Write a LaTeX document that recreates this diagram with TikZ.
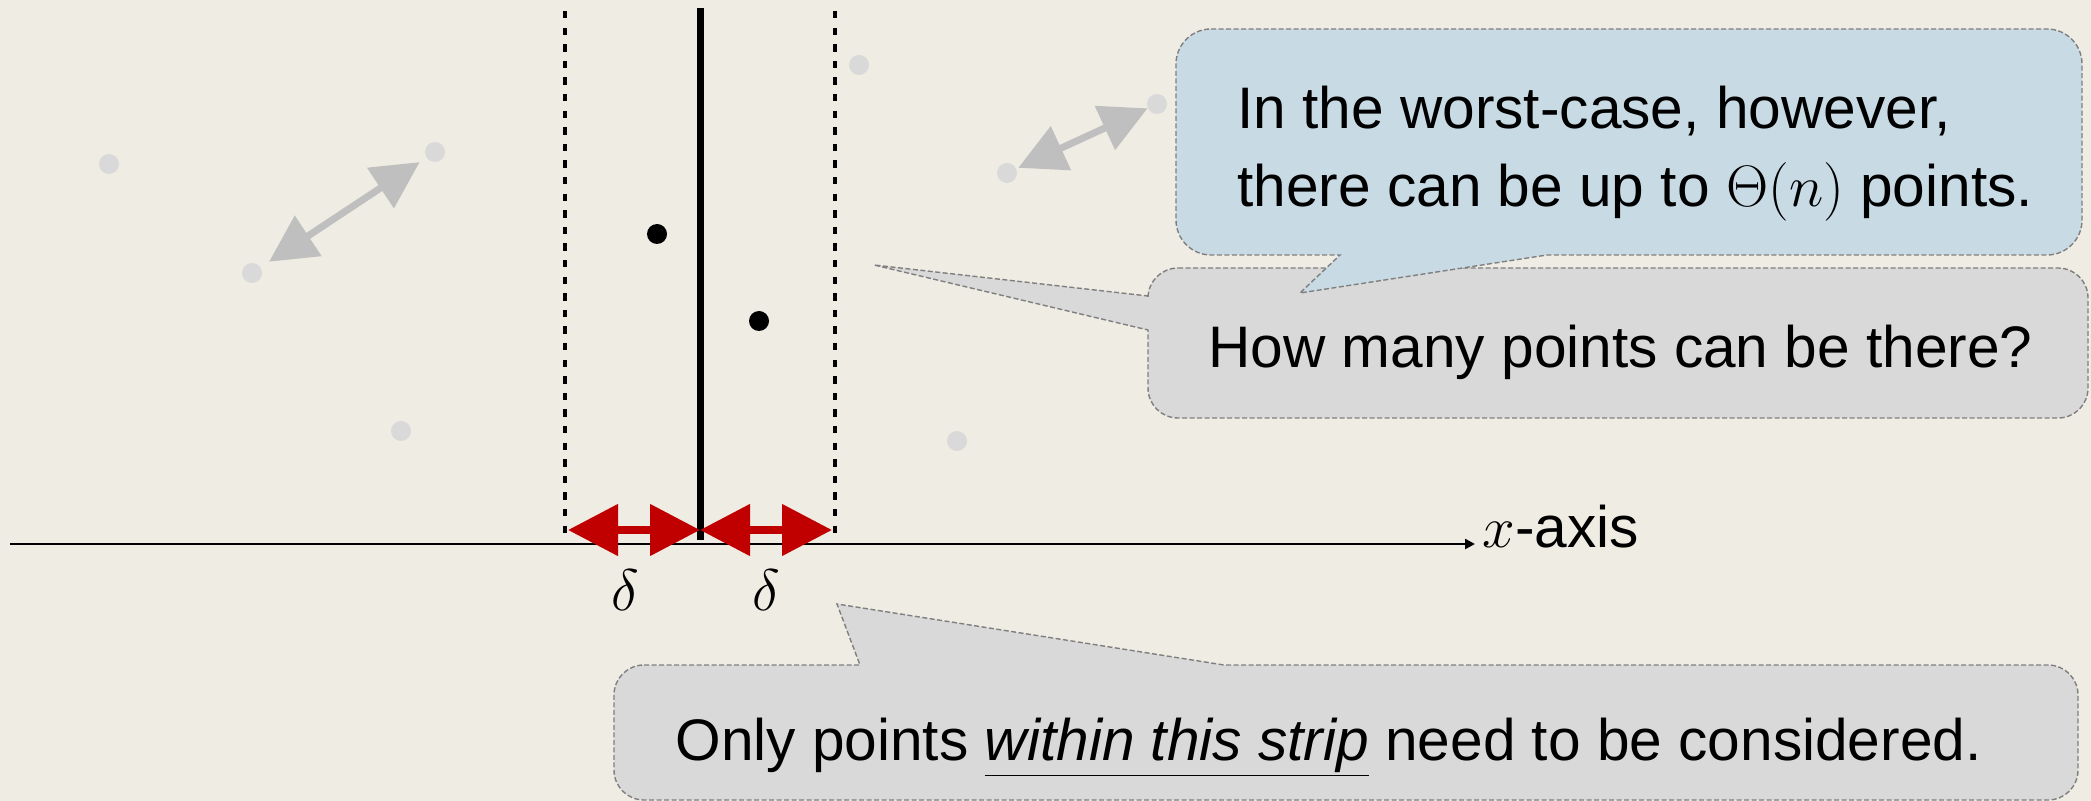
\RequirePackage{fix-cm}
\documentclass[tikz,border=0pt]{standalone}
\usepackage{fontspec}
\setmainfont{Liberation Sans}
\usetikzlibrary{arrows.meta}
\definecolor{paper}{RGB}{239,236,228}
\definecolor{ptgray}{RGB}{217,217,217}
\definecolor{pairgray}{RGB}{191,191,191}
\definecolor{stripred}{RGB}{192,0,0}
\definecolor{skyfill}{RGB}{200,218,228}
\definecolor{boxgray}{RGB}{217,217,217}
\definecolor{bubbleedge}{RGB}{127,127,127}
\tikzset{
  gpoint/.style={circle,fill=ptgray,inner sep=0pt,minimum size=10pt},
  bpoint/.style={circle,fill=black,inner sep=0pt,minimum size=10pt},
  pairarrow/.style={draw=pairgray,line width=3.5pt,<->,>={Triangle[length=23.5pt,width=23.5pt]}},
  halfwidth/.style={draw=stripred,line width=4pt,<->,>={Triangle[length=25pt,width=25pt]}},
  stripedge/.style={line width=2pt,dash pattern={on 3.7pt off 4.6pt}},
  bubble/.style={draw=bubbleedge,line width=0.7pt,dash pattern={on 2.5pt off 1.25pt}},
  saytext/.style={anchor=base west,inner sep=0pt,font=\fontsize{29.3}{39}\selectfont},
}
\begin{document}
\begin{tikzpicture}[x=0.5pt,y=0.5pt,yscale=-1,xscale=1]
	%set diagram size 2091 x 801
	\path[fill=paper] (0,0) rectangle (2091,801);
	
	%Shape: Circle (far points)
	\node[gpoint] (g1) at (109,164) {};
	\node[gpoint] (g2) at (252,273) {};
	\node[gpoint] (g3) at (435,152) {};
	\node[gpoint] (g4) at (401,431) {};
	\node[gpoint] (g5) at (859,65) {};
	\node[gpoint] (g6) at (957,441) {};
	\node[gpoint] (g7) at (1007,173) {};
	\node[gpoint] (g8) at (1157,104) {};
	%Straight Lines (closest pairs)
	\draw[pairarrow,shorten <=5pt,shorten >=4pt] (g2) -- (g3);
	\draw[pairarrow,shorten <=1pt] (g7) -- (g8);
	
	%Straight Lines (x-axis)
	\coordinate (xstart) at (10,544);
	\coordinate (xend) at (1475,544);
	\draw[line width=1.2pt,->,>={Triangle[length=5pt,width=5pt]}] (xstart) -- (xend);
	
	%Straight Lines (strip)
	\coordinate (ltop) at (565,11);
	\coordinate (lbot) at (565,534);
	\coordinate (mtop) at (700,8);
	\coordinate (mbot) at (700,540);
	\coordinate (rtop) at (835,11);
	\coordinate (rbot) at (835,534);
	\draw[stripedge] (ltop) -- (lbot);
	\draw[stripedge] (rtop) -- (rbot);
	\draw[line width=3.5pt] (mtop) -- (mbot);
	
	%Shape: Circle (points in strip)
	\node[bpoint] (b1) at (657,234) {};
	\node[bpoint] (b2) at (759,321) {};
	
	%Straight Lines (delta)
	\coordinate (dl) at (568,530);
	\coordinate (dm) at (700,530);
	\coordinate (dr) at (832,530);
	\draw[halfwidth] (dl) -- (dm);
	\draw[halfwidth] (dm) -- (dr);
	
	%Shape: Callout (how many)
	\draw[bubble,fill=boxgray] (1178,268) -- (2058,268) .. controls (2074.6,268) and (2088,281.4) .. (2088,298) -- (2088,388) .. controls (2088,404.6) and (2074.6,418) .. (2058,418) -- (1178,418) .. controls (1161.4,418) and (1148,404.6) .. (1148,388) -- (1148,330) -- (874,265) -- (1148,296) -- (1148,298) .. controls (1148,281.4) and (1161.4,268) .. (1178,268) -- cycle ;
	%Shape: Callout (worst case)
	\draw[bubble,fill=skyfill] (1211,29) -- (2047,29) .. controls (2066.3,29) and (2082,44.7) .. (2082,64) -- (2082,220) .. controls (2082,239.3) and (2066.3,255) .. (2047,255) -- (1547,255) -- (1300,293) -- (1340,255) -- (1211,255) .. controls (1191.7,255) and (1176,239.3) .. (1176,220) -- (1176,64) .. controls (1176,44.7) and (1191.7,29) .. (1211,29) -- cycle ;
	%Shape: Callout (strip)
	\draw[bubble,fill=boxgray] (644,665) -- (860,665) -- (837,604) -- (1224,665) -- (2048,665) .. controls (2064.6,665) and (2078,678.4) .. (2078,695) -- (2078,770) .. controls (2078,786.6) and (2064.6,800) .. (2048,800) -- (644,800) .. controls (627.4,800) and (614,786.6) .. (614,770) -- (614,695) .. controls (614,678.4) and (627.4,665) .. (644,665) -- cycle ;
	
	% Text Node
	\node[font=\fontsize{29.3}{39}\selectfont] (dleft) at (625,590) {$\delta$};
	% Text Node
	\node[font=\fontsize{29.3}{39}\selectfont] (dright) at (766,590) {$\delta$};
	% Text Node
	\node[saytext] (xlabel) at (1482,547) {$x$-axis};
	% Text Node
	\node[saytext,anchor=north west,align=left] (worstcase) at (1237,86) {In the worst-case, however,\\there can be up to $\Theta(n)$ points.};
	% Text Node
	\node[saytext] (howmany) at (1208,368) {How many points can be there?};
	% Text Node
	\node[saytext] (onlystrip) at (675,760) {Only points \underline{\textit{within this strip}} need to be considered.};
\end{tikzpicture}
\end{document}
